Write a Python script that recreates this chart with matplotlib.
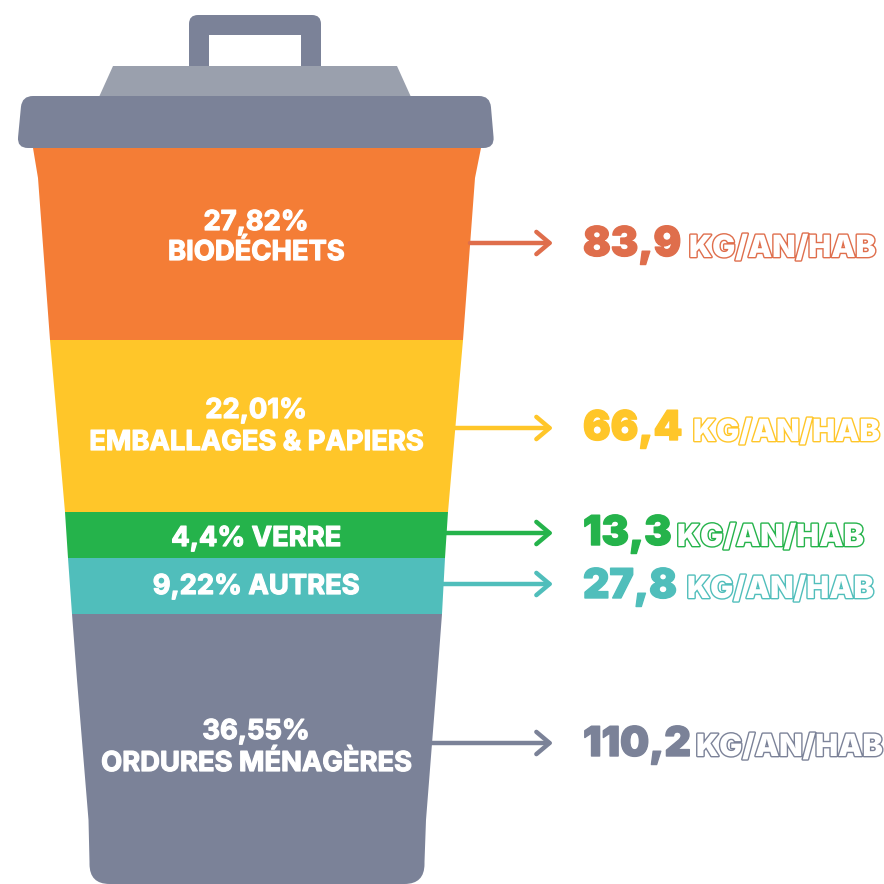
import numpy as np
import matplotlib
matplotlib.use("Agg")
import matplotlib.pyplot as plt
from matplotlib.path import Path
from matplotlib.patches import PathPatch, Polygon
import matplotlib.patheffects as pe

# ---- data ----
categories = ["BIODÉCHETS", "EMBALLAGES & PAPIERS", "VERRE", "AUTRES", "ORDURES MÉNAGÈRES"]
shares = ["27,82%", "22,01%", "4,4%", "9,22%", "36,55%"]
kg_values = ["83,9", "66,4", "13,3", "27,8", "110,2"]
unit = "KG/AN/HAB"

# ---- layout (pixels) ----
seg_colors = ["#F47D36", "#FFC629", "#25B34B", "#50BEBB", "#7B8298"]
val_colors = ["#DF6E4C", "#FFC629", "#25B34B", "#50BEBB", "#7B8298"]
seg_bounds = [148, 340, 512, 558, 614, 884]
edge_y = [148, 178, 340, 512, 558, 614, 680, 820, 862, 884]
edge_l = [33, 38, 50, 65, 68, 72, 77, 88.5, 89.5, 89.5]
edge_r = [481, 475, 463, 448, 445, 442, 437, 426, 424.5, 424.5]
arrow_y = [243, 428, 533, 584, 743]
arrow_x0 = [470, 454, 446, 443, 430]
value_base = [256, 440, 545, 598, 756]
unit_x = [689, 693, 677, 687, 696]
unit_base = [257, 441, 546, 598, 756]
label_y = [(223, 253), (411, 443), (539,), (587,), (732, 764)]
C_X = 256
GREY = "#7B8298"

plt.rcParams["font.family"] = ["Inter", "DejaVu Sans"]

fig = plt.figure(figsize=(8.84, 8.84), dpi=100)
ax = fig.add_axes([0, 0, 1, 1])
ax.set_xlim(0, 884)
ax.set_ylim(884, 0)
ax.axis("off")


def rounded(points, radii):
    pts = [np.array(p, float) for p in points]
    n = len(pts)
    verts, codes = [], []
    for i, (p, r) in enumerate(zip(pts, radii)):
        a, b = pts[i - 1], pts[(i + 1) % n]
        if r <= 0:
            verts.append(p)
            codes.append(Path.MOVETO if i == 0 else Path.LINETO)
            continue
        s = p + (a - p) / np.linalg.norm(a - p) * r
        e = p + (b - p) / np.linalg.norm(b - p) * r
        verts += [s, p, e]
        codes += [Path.MOVETO if i == 0 else Path.LINETO, Path.CURVE3, Path.CURVE3]
    verts.append(verts[0])
    codes.append(Path.CLOSEPOLY)
    return Path(verts, codes)


# handle
handle = rounded([(189, 70), (189, 15), (321, 15), (321, 70), (301, 70), (301, 35), (209, 35), (209, 70)],
                 [0, 9, 9, 0, 0, 0, 0, 0])
ax.add_patch(PathPatch(handle, fc=GREY, ec="none", zorder=1))
# lid dome
ax.add_patch(Polygon([(113, 66), (397, 66), (411, 97), (99, 97)], fc="#9AA0AD", ec="none", zorder=2))

# body segments
for i, col in enumerate(seg_colors):
    y0, y1 = seg_bounds[i], seg_bounds[i + 1]
    ys = [y for y in edge_y if y0 < y < y1]
    ys = [y0] + ys + [y1]
    left = [(np.interp(y, edge_y, edge_l), y) for y in ys]
    right = [(np.interp(y, edge_y, edge_r), y) for y in ys]
    if i == len(seg_colors) - 1:
        pts = left[:-1] + [(89.5, 884)] + [(424.5, 884)] + right[:-1][::-1]
        rad = [0] * (len(left) - 1) + [20, 20] + [0] * (len(right) - 1)
        ax.add_patch(PathPatch(rounded(pts, rad), fc=col, ec="none", zorder=2))
    else:
        ax.add_patch(Polygon(left + right[::-1], fc=col, ec="none", zorder=2))

# lid
lid = rounded([(22, 96), (490, 96), (494.5, 148), (17, 148)], [11, 11, 11, 11])
ax.add_patch(PathPatch(lid, fc=GREY, ec="none", zorder=3))

# labels inside the bin
lab = dict(color="white", ha="center", va="center", fontweight="bold", fontsize=19.7, zorder=4,
           path_effects=[pe.Stroke(linewidth=0.9, foreground="white"), pe.Normal()])
ax.text(C_X, label_y[0][0], shares[0], **lab)
ax.text(C_X, label_y[0][1], categories[0], **lab)
ax.text(C_X, label_y[1][0], shares[1], **lab)
ax.text(C_X, label_y[1][1], categories[1], **lab)
ax.text(C_X, label_y[2][0], f"{shares[2]} {categories[2]}", **lab)
ax.text(C_X, label_y[3][0], f"{shares[3]} {categories[3]}", **lab)
ax.text(C_X, label_y[4][0], shares[4], **lab)
ax.text(C_X, label_y[4][1], categories[4], **lab)

# arrows and values
for i in range(5):
    ax.annotate("", xy=(553, arrow_y[i]), xytext=(arrow_x0[i], arrow_y[i]),
                arrowprops=dict(arrowstyle="->,head_length=0.95,head_width=0.8", color=val_colors[i],
                                lw=3.2, shrinkA=0, shrinkB=0), zorder=4)
    ax.text(583, value_base[i], kg_values[i], color=val_colors[i], fontsize=29.5, fontweight="black",
            ha="left", va="baseline", zorder=4,
            path_effects=[pe.Stroke(linewidth=1.0, foreground=val_colors[i]), pe.Normal()])
    t = ax.text(unit_x[i], unit_base[i], unit, color="white", fontsize=22, fontweight="black",
                ha="left", va="baseline", zorder=4)
    t.set_path_effects([pe.Stroke(linewidth=2, foreground=val_colors[i]), pe.Normal()])

fig.savefig("out.png", dpi=100, facecolor="white")
